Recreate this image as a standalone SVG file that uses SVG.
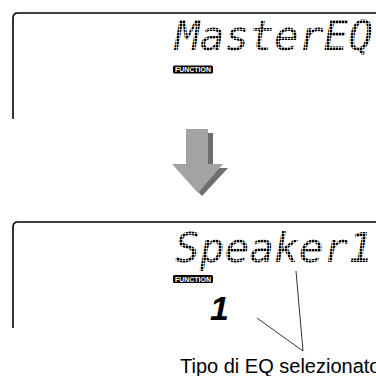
<svg xmlns="http://www.w3.org/2000/svg" width="376" height="376" viewBox="0 0 376 376">
<defs>
<pattern id="dots" width="3" height="3" patternUnits="userSpaceOnUse">
  <rect width="2.4" height="2.4" fill="#000"/>
</pattern>
</defs>
<style>
.panel{fill:none;stroke:#000;stroke-width:1.6}
.lcd{font-family:"DejaVu Sans Mono",monospace;font-style:oblique;font-size:40px;fill:url(#dots)}
.badge{fill:#000}
.badgetxt{font-family:"Liberation Sans",Arial,sans-serif;font-size:6.5px;font-weight:bold;fill:#fff}
.cap{font-family:"Liberation Sans",Arial,sans-serif;font-size:20px;fill:#000}
.lead{stroke:#000;stroke-width:0.8;fill:none}
</style>
<rect width="376" height="376" fill="#fff"/>
<g id="display-top">
  <path class="panel" d="M13 119 V18 Q13 13 18 13 H376"/>
  <text class="lcd" x="175" y="50" textLength="198" lengthAdjust="spacingAndGlyphs">MasterEQ</text>
  <rect class="badge" x="173" y="65.5" width="40" height="8" rx="1.5"/>
  <text class="badgetxt" x="175" y="72" textLength="36" lengthAdjust="spacingAndGlyphs">FUNCTION</text>
</g>
<g id="arrow">
  <polygon fill="#6e6e6e" points="190,133 213,133 213,168 228,168 202,196 176,168 190,168"/>
  <polygon fill="#a3a3a3" points="186,129 208,129 208,164 223,164 198,193 172,164 186,164"/>
</g>
<g id="display-bottom">
  <path class="panel" d="M13 328 V227 Q13 222 18 222 H376"/>
  <text class="lcd" x="175" y="262" textLength="198" lengthAdjust="spacingAndGlyphs">Speaker1</text>
  <rect class="badge" x="173" y="275" width="40" height="8" rx="1.5"/>
  <text class="badgetxt" x="175" y="281.5" textLength="36" lengthAdjust="spacingAndGlyphs">FUNCTION</text>
  <text x="210" y="320" font-family="Liberation Sans, Arial, sans-serif" font-weight="bold" font-style="italic" font-size="34">1</text>
</g>
<g id="connectors">
  <line class="lead" x1="257" y1="318" x2="303" y2="351"/>
  <line class="lead" x1="296" y1="271" x2="303" y2="351"/>
</g>
<g id="label">
  <text class="cap" x="180" y="373">Tipo di EQ selezionato</text>
</g>
</svg>
